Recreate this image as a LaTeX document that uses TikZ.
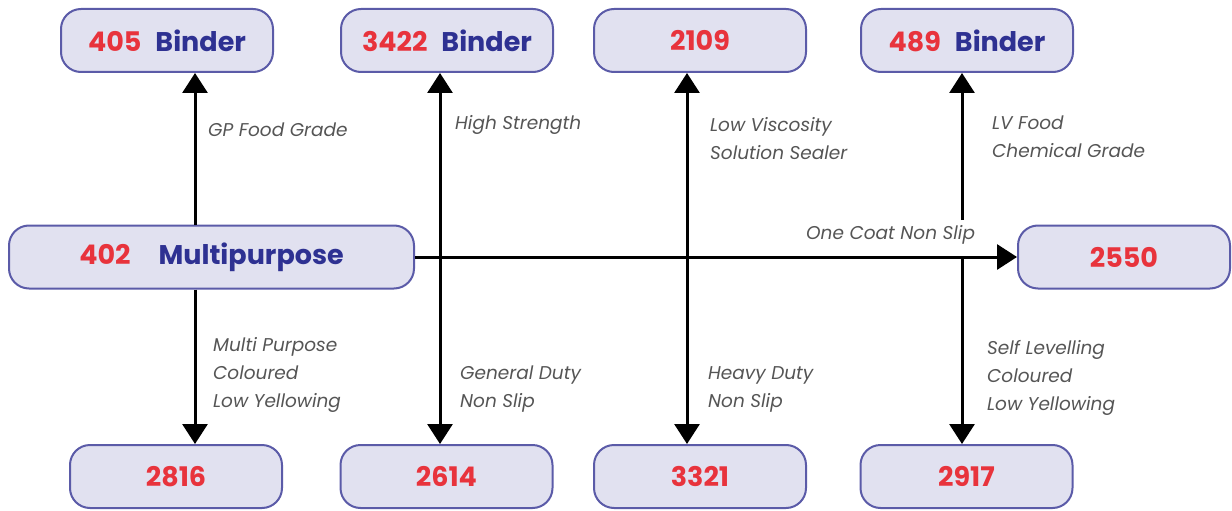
\documentclass[tikz,border=0pt]{standalone}
\usepackage{fontspec}
\setmainfont{Poppins}
\usetikzlibrary{arrows.meta,calc}
\definecolor{numred}{HTML}{E8333C}
\definecolor{wordblue}{HTML}{2E3192}
\definecolor{boxfill}{HTML}{E1E1F0}
\definecolor{boxline}{HTML}{5B5BA8}
\definecolor{labgrey}{HTML}{555555}
\begin{document}
\begin{tikzpicture}[x=1pt,y=-1pt,
  prodbox/.style={draw=boxline, line width=2pt, fill=boxfill, rounded corners=20pt,
    minimum height=63pt, inner sep=0pt, font=\fontsize{27}{30}\selectfont\bfseries},
  lab/.style={anchor=west, align=left, text=labgrey, inner sep=0pt,
    font=\fontsize{18.5}{28}\selectfont\itshape},
  arr/.style={line width=3pt, -{Triangle[width=25pt,length=20pt]}},
  arrtwo/.style={line width=3pt, {Triangle[width=25pt,length=20pt]}-{Triangle[width=25pt,length=20pt]}}]
\useasboundingbox (0,0) rectangle (1232,511);
% top row
\node[prodbox, minimum width=212pt] (b405) at (167,40.5) {\textcolor{numred}{405}\hspace{14pt}\textcolor{wordblue}{Binder}};
\node[prodbox, minimum width=212pt] (b3422) at (447,40.5) {\textcolor{numred}{3422}\hspace{14pt}\textcolor{wordblue}{Binder}};
\node[prodbox, minimum width=212pt] (b2109) at (700,40.5) {\textcolor{numred}{2109}};
\node[prodbox, minimum width=212pt] (b489) at (967,40.5) {\textcolor{numred}{489}\hspace{14pt}\textcolor{wordblue}{Binder}};
% middle row
\node[prodbox, minimum width=405pt] (b402) at (211.5,257) {\textcolor{numred}{402}\hspace{28pt}\textcolor{wordblue}{Multipurpose}};
\node[prodbox, minimum width=212pt] (b2550) at (1124,257) {\textcolor{numred}{2550}};
% bottom row
\node[prodbox, minimum width=212pt] (b2816) at (176,476.5) {\textcolor{numred}{2816}};
\node[prodbox, minimum width=212pt] (b2614) at (446.5,476.5) {\textcolor{numred}{2614}};
\node[prodbox, minimum width=212pt] (b3321) at (700,476.5) {\textcolor{numred}{3321}};
\node[prodbox, minimum width=212pt] (b2917) at (966.5,476.5) {\textcolor{numred}{2917}};
% arrow columns
\coordinate (c1) at (195,0);
\coordinate (c2) at (440,0);
\coordinate (c3) at (687,0);
\coordinate (c4) at (962,0);
\coordinate (j) at (962,220);
% connectors
\draw[arr] (b402.east) -- (b2550.west);
\draw[arr] (c1 |- b402.north) -- (c1 |- b405.south);
\draw[arr] (c1 |- b402.south) -- (c1 |- b2816.north);
\draw[arrtwo] (c2 |- b3422.south) -- (c2 |- b2614.north);
\draw[arrtwo] (c3 |- b2109.south) -- (c3 |- b3321.north);
\draw[arr] (j) -- (c4 |- b489.south);
\draw[arr] (c4 |- b402.east) -- (c4 |- b2917.north);
% labels
\node[lab] (l1) at (208,130) {GP Food Grade};
\node[lab] (l2) at (455,125) {High Strength};
\node[lab] (l3) at (710,138.5) {Low Viscosity\\Solution Sealer};
\node[lab] (l4) at (992,136.5) {LV Food\\Chemical Grade};
\node[lab] (l5) at (806,235) {One Coat Non Slip};
\node[lab] (l6) at (213,375) {Multi Purpose\\Coloured\\Low Yellowing};
\node[lab] (l7) at (460,389) {General Duty\\Non Slip};
\node[lab] (l8) at (708,389) {Heavy Duty\\Non Slip};
\node[lab] (l9) at (987,378) {Self Levelling\\Coloured\\Low Yellowing};
\end{tikzpicture}
\end{document}
